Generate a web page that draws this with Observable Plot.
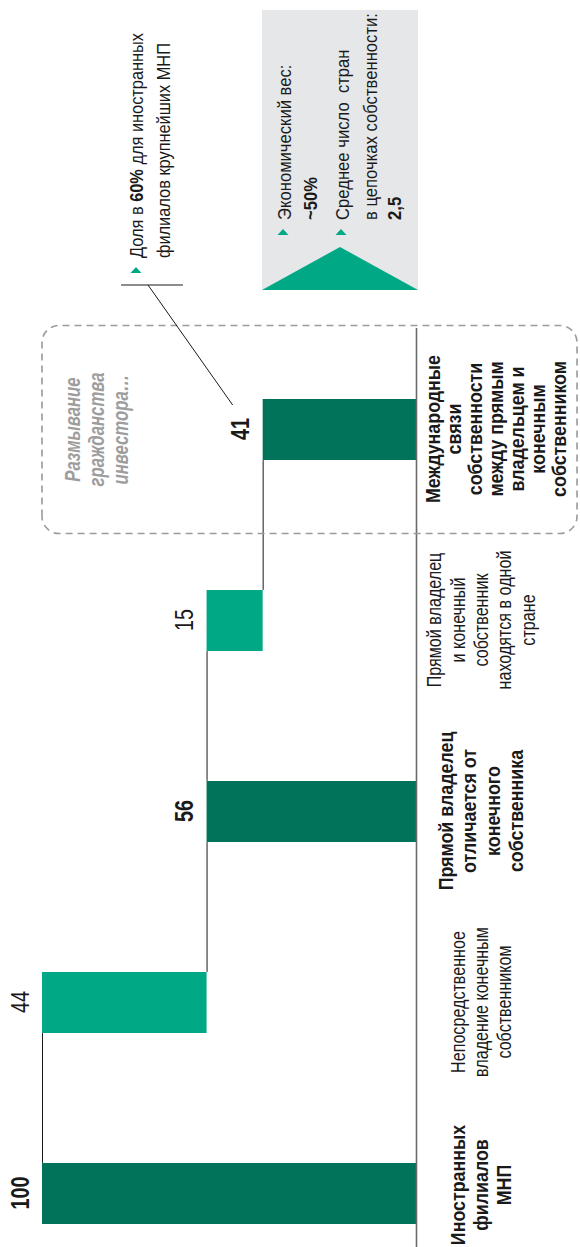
<!DOCTYPE html>
<html><head><meta charset="utf-8">
<script src="https://cdn.jsdelivr.net/npm/d3@7"></script>
<script src="https://cdn.jsdelivr.net/npm/@observablehq/plot@0.6"></script>
<style>
html,body{margin:0;padding:0;background:#fff;}
#wrap{position:relative;width:580px;height:1247px;overflow:hidden;}
#wrap svg{position:absolute;left:0;top:0;max-width:none !important;width:1247px !important;height:580px !important;transform-origin:0 0;transform:translate(0,1247px) rotate(-90deg);}
</style></head><body><div id="wrap"></div>
<script>
// ---- data ----
const categories = [
  "Иностранных\nфилиалов\nМНП",
  "Непосредственное\nвладение конечным\nсобственником",
  "Прямой владелец\nотличается от\nконечного\nсобственника",
  "Прямой владелец\nи конечный\nсобственник\nнаходятся в одной\nстране",
  "Международные\nсвязи\nсобственности\nмежду прямым\nвладельцем и\nконечным\nсобственником"
];
const values = [100, 44, 56, 15, 41];
const kinds = ["total", "step", "total", "step", "total"];
const noteText = ["Размывание", "гражданства", "инвестора…"];
const calloutLines = [[["Доля в ", false], ["60%", true], [" для иностранных", false]], [["филиалов крупнейших МНП", false]]];
const boxLines = [
  {parts: [["Экономический вес:", false]], bullet: true},
  {parts: [["~50%", true]], bullet: false},
  {parts: [["Среднее число  стран", false]], bullet: true},
  {parts: [["в цепочках собственности:", false]], bullet: false},
  {parts: [["2,5", true]], bullet: false}
];

const DARK = "#00735a", LIGHT = "#00a886", INK = "#1a1a1a";
const FONT = "'Liberation Sans',Arial,sans-serif";

let running = 0;
const data = categories.map((cat, i) => {
  let y1, y2;
  if (kinds[i] === "total") { y1 = 0; y2 = values[i]; running = values[i]; }
  else { y2 = running; y1 = running - values[i]; running = y1; }
  return {cat, value: values[i], kind: kinds[i], y1, y2, level: running, next: categories[i + 1]};
});
const connectors = data.slice(0, -1);

const xOpts = {type: "band", domain: categories, range: [0, 871], paddingInner: 0.68, paddingOuter: 0.12};
const bw = Plot.scale({x: xOpts}).bandwidth;

const LABEL_FS = 20;
const labelMarks = data.map((d, i) => {
  const n = d.cat.split("\n").length;
  const lh = n >= 7 ? 1.05 : 1.17;
  const dy = Math.max(64, 7 + ((n - 1) * lh * LABEL_FS + LABEL_FS) / 2);
  return Plot.text([d], {x: "cat", text: "cat", frameAnchor: "bottom", lineAnchor: "middle",
    dx: i === 0 ? 8 : 0, dy, fontSize: LABEL_FS, lineHeight: lh,
    fontWeight: d.kind === "total" ? "bold" : "normal", fill: INK});
});

const chart = Plot.plot({
  width: 1247, height: 580,
  marginLeft: 0, marginRight: 328, marginTop: 42, marginBottom: 164,
  x: {...xOpts, axis: null},
  y: {domain: [0, 100], axis: null},
  style: {fontFamily: FONT, fontSize: "20px", background: "transparent"},
  marks: [
    Plot.ruleY(connectors, {x1: "cat", x2: "next", y: "level", stroke: INK, strokeWidth: 1, insetLeft: bw, insetRight: bw}),
    Plot.barY(data, {x: "cat", y1: "y1", y2: "y2", fill: d => d.kind === "total" ? DARK : LIGHT}),
    Plot.ruleY([0], {stroke: "#6a6a6a", strokeWidth: 1.6}),
    Plot.text(data.filter(d => d.kind === "total"), {x: "cat", y: "y2", text: d => String(d.value), dy: -22, fontSize: 25, fontWeight: "bold", fill: INK}),
    Plot.text(data.filter(d => d.kind !== "total"), {x: "cat", y: "y2", text: d => String(d.value), dy: -22, fontSize: 25, fill: INK}),
    ...labelMarks
  ]
});
document.getElementById("wrap").appendChild(chart);
const svg = d3.select(chart);

// ---- condensed look: scale text along reading direction to the reference's widths ----
function measure(str, size, weight, style) {
  const t = svg.append("text").attr("font-family", FONT).attr("font-size", size)
    .attr("font-weight", weight).attr("font-style", style || "normal").text(str);
  const L = t.node().getComputedTextLength(); t.remove(); return L;
}
const K = {
  numBold: 33 / measure("100", 25, "bold"),
  numReg: 22 / measure("44", 25, "normal"),
  labBold: 148 / measure("Международные", LABEL_FS, "bold"),
  labReg: 150 / measure("владение конечным", LABEL_FS, "normal"),
  callout: 215 / measure("филиалов крупнейших МНП", 19, "normal"),
  box: 207 / measure("в цепочках собственности:", 19, "normal"),
  note: 114 / measure("гражданства", 22, "bold", "italic")
};
svg.selectAll("g[aria-label='text']").each(function() {
  const fs = +this.getAttribute("font-size");
  const bold = this.getAttribute("font-weight") === "bold";
  const k = fs === 25 ? (bold ? K.numBold : K.numReg) : (bold ? K.labBold : K.labReg);
  d3.select(this).selectAll("text").attr("transform", function() {
    return (this.getAttribute("transform") || "") + ` scale(${k},1)`;
  });
});

// ---- annotations (unrotated frame) ----
const X = chart.scale("x"), Y = chart.scale("y");
const c4 = X.apply(categories[4]) + X.bandwidth / 2;
const g = svg.append("g").attr("font-family", FONT).attr("text-anchor", "start");

// dashed box
g.append("rect").attr("x", c4 - 104).attr("y", Y.apply(100)).attr("width", 208).attr("height", 535)
  .attr("rx", 17).attr("fill", "none").attr("stroke", "#9a9a9a").attr("stroke-width", 1.6).attr("stroke-dasharray", "7 5");
const nt = g.append("text").attr("text-anchor", "middle").attr("font-style", "italic").attr("font-weight", "bold")
  .attr("font-size", 22).attr("fill", "#9d9d9d").attr("transform", `translate(${c4},80) scale(${K.note},1)`);
noteText.forEach((t, i) => nt.append("tspan").attr("x", 0).attr("y", i * 24).text(t));

// leader line
const y41 = Y.apply(values[4]);
g.append("path").attr("d", `M${c4 + 24.5},${y41 - 30} L${c4 + 144.5},148 M${c4 + 144.5},121 V183`)
  .attr("fill", "none").attr("stroke", INK).attr("stroke-width", 1);

function bullet(u, v) {
  g.append("polygon").attr("points", `${u},${v - 5.5} ${u},${v + 5.5} ${u + 6},${v}`).attr("fill", LIGHT);
}
function line(u, v, parts, size, k) {
  const t = g.append("text").attr("font-size", size).attr("fill", INK)
    .attr("transform", `translate(${u},${v}) scale(${k},1)`);
  parts.forEach(p => t.append("tspan").attr("font-weight", p[1] ? "bold" : "normal").text(p[0]));
}
// callout
const cx0 = c4 + 171.5;
bullet(cx0 - 15, 136);
calloutLines.forEach((parts, i) => line(cx0, 143 + i * 27, parts, 19, K.callout));

// grey box
const bx0 = c4 + 139.5, bx1 = c4 + 419.5;
g.append("rect").attr("x", bx0).attr("y", 262).attr("width", bx1 - bx0).attr("height", 156).attr("fill", "#e6e7e8");
g.append("polygon").attr("points", `${bx0},262 ${bx0},418 ${bx0 + 43},340`).attr("fill", LIGHT);
const baselines = [291, 317, 349, 377, 401];
const tx = c4 + 209.5;
boxLines.forEach((l, i) => {
  if (l.bullet) bullet(tx - 15, baselines[i] - 8);
  line(tx, baselines[i], l.parts, 19, K.box);
});
</script></body></html>
